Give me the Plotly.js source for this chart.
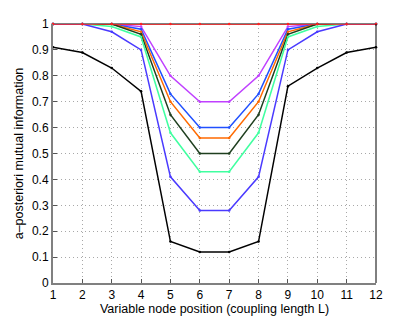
<!DOCTYPE html>
<html><head><meta charset="utf-8">
<script src="https://cdn.plot.ly/plotly-3.0.1.min.js"></script>
<style>html,body{margin:0;padding:0;background:#fff}#c{width:415px;height:319px}</style>
</head><body><div id="c"></div>
<script>
const positions = [1,2,3,4,5,6,7,8,9,10,11,12];
const purple = [1,1,1,0.99,0.80,0.70,0.70,0.80,0.99,1,1,1];
const blue = [1,1,1,0.98,0.73,0.60,0.60,0.73,0.98,1,1,1];
const orange = [1,1,1,0.97,0.70,0.56,0.56,0.70,0.97,1,1,1];
const darkgreen = [1,1,1,0.96,0.65,0.50,0.50,0.65,0.96,1,1,1];
const aqua = [1,1,0.99,0.95,0.58,0.43,0.43,0.58,0.95,0.99,1,1];
const violet = [1,1,0.97,0.90,0.41,0.28,0.28,0.41,0.90,0.97,1,1];
const black = [0.91,0.89,0.83,0.74,0.16,0.12,0.12,0.16,0.76,0.83,0.89,0.91];
const red = [1,1,1,1,1,1,1,1,1,1,1,1];
const series = [
  [purple,'#c040ff'],[blue,'#2050ff'],[orange,'#ff6a00'],[darkgreen,'#1f3f1f'],
  [aqua,'#40ffa0'],[violet,'#4a3aff'],[black,'#000000'],[red,'#ff2020']
];
const traces = series.map(([y,c]) => ({x:positions,y:y,type:'scatter',mode:'lines+markers',
  line:{color:c,width:1.5},marker:{color:c,size:2.5},showlegend:false,cliponaxis:false}));
const font = {family:'Liberation Sans, Arial, sans-serif',size:12,color:'#000'};
const titleFont = {family:font.family,size:12.5,color:'#000'};
Plotly.newPlot('c',traces,{
  width:415,height:319,margin:{l:53,r:39,t:24,b:36},
  paper_bgcolor:'#fff',plot_bgcolor:'#fff',font:font,
  xaxis:{range:[1,12],tickvals:positions,ticktext:positions.map(String),ticks:'inside',ticklen:4,
    tickcolor:'#555',showline:true,linecolor:'#808080',linewidth:2,zeroline:false,
    showgrid:true,gridcolor:'#a8a8a8',griddash:'1px,3px',gridwidth:1,tickfont:font,
    title:{text:'Variable node position (coupling length L)',font:titleFont,standoff:3}},
  yaxis:{range:[0,1],tickvals:[0,0.1,0.2,0.3,0.4,0.5,0.6,0.7,0.8,0.9,1],
    ticktext:['0','0.1','0.2','0.3','0.4','0.5','0.6','0.7','0.8','0.9','1'],
    ticks:'inside',ticklen:4,tickcolor:'#555',showline:true,linecolor:'#808080',linewidth:2,zeroline:false,
    showgrid:true,gridcolor:'#a8a8a8',griddash:'1px,3px',gridwidth:1,tickfont:font,
    title:{text:'a\u2013posteriori mutual information',font:titleFont,standoff:6}},
  shapes:[
    {type:'line',xref:'paper',yref:'paper',x0:1,x1:1,y0:0,y1:1,line:{color:'#000',width:1}},
    {type:'line',xref:'paper',yref:'paper',x0:0,x1:1,y0:1,y1:1,line:{color:'#808080',width:2},layer:'below'}
  ]
},{displayModeBar:false,staticPlot:true});
</script></body></html>
